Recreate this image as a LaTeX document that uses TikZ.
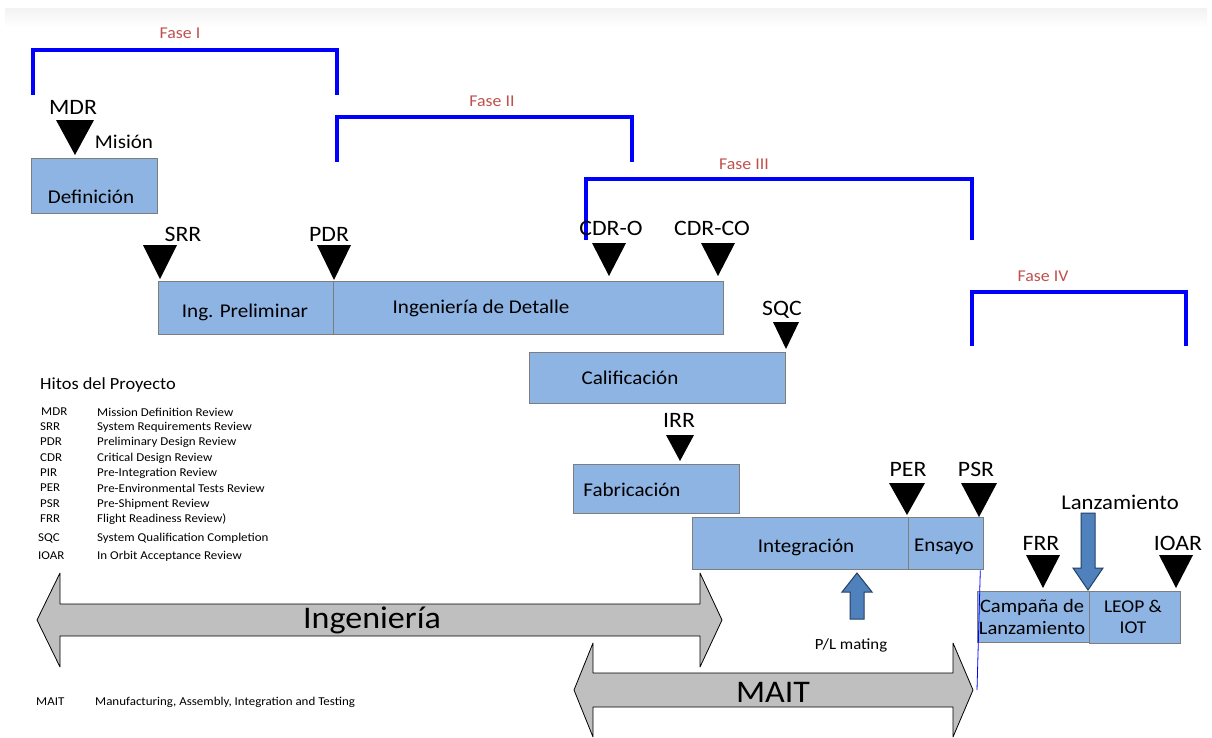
\documentclass[tikz,border=0pt]{standalone}
\usepackage{fontspec}
\setmainfont[FakeStretch=1.08]{Carlito}
\definecolor{boxfill}{RGB}{142,180,227}
\definecolor{boxline}{RGB}{125,125,125}
\definecolor{phaseblue}{RGB}{0,0,255}
\definecolor{fasered}{RGB}{192,80,77}
\definecolor{arrgray}{RGB}{191,191,191}
\definecolor{arrblue}{RGB}{79,129,189}
\definecolor{arrblueline}{RGB}{36,64,100}
\newcommand\mstone[4]{\fill[black] ({#1-#4/2},#2) -- ({#1+#4/2},#2) -- (#1,#3) -- cycle;}
\begin{document}
\begin{tikzpicture}[x=1pt,y=-1pt,
  phase/.style={draw=phaseblue,line width=3.2pt},
  phlabel/.style={text=fasered,font=\fontsize{16.5}{19}\selectfont,inner sep=0pt},
  box/.style={draw=boxline,fill=boxfill,line width=1.3pt,rectangle,inner sep=0pt,anchor=north west},
  btext/.style={font=\fontsize{19.5}{22}\selectfont,inner sep=0pt,align=center},
  mslabel/.style={font=\fontsize{22}{25}\selectfont,inner sep=0pt},
  legabbr/.style={font=\fontsize{12}{13}\selectfont,inner sep=0pt,anchor=west},
  legdesc/.style={font=\fontsize{12}{13}\selectfont,inner sep=0pt,anchor=west},
  bigarrow/.style={draw=black,fill=arrgray,line width=0.8pt,line join=round},
  bluearrow/.style={draw=arrblueline,fill=arrblue,line width=1pt},
  bigtext/.style={font=\fontsize{31.5}{36}\selectfont,inner sep=0pt}]
\useasboundingbox (0,0) rectangle (1212,737);
\fill[white] (0,0) rectangle (1212,737);
\shade[top color=black!5,bottom color=white] (5,8) rectangle (1207,27);

% phase brackets
\draw[phase] (33,95) -- (33,50) -- (337,50) -- (337,95);
\node[phlabel] (f1) at (180,33) {Fase I};
\draw[phase] (337,162) -- (337,117) -- (632,117) -- (632,162);
\node[phlabel] (f2) at (492,101) {Fase II};
\draw[phase] (586,240) -- (586,179) -- (972,179) -- (972,240);
\node[phlabel] (f3) at (744,164) {Fase III};
\draw[phase] (972,346) -- (972,292) -- (1186,292) -- (1186,346);
\node[phlabel] (f4) at (1043,276) {Fase IV};

% boxes
\node[box,minimum width=126pt,minimum height=55pt] (def) at (31,158) {};
\node[btext] at (91,197) {Definición};
\node[box,minimum width=175pt,minimum height=53pt] (prel) at (158,281) {};
\node[btext] at (245,312) {Ing. Preliminar};
\node[box,minimum width=390pt,minimum height=53pt] (det) at (333,281) {};
\node[btext] at (481,308) {Ingeniería de Detalle};
\node[box,minimum width=256pt,minimum height=51pt] (cal) at (529,352) {};
\node[btext] at (630,378) {Calificación};
\node[box,minimum width=166pt,minimum height=49pt] (fab) at (573,464) {};
\node[btext] at (632,490) {Fabricación};
\node[box,minimum width=216pt,minimum height=52pt] (int) at (692,517) {};
\node[btext] at (806,547) {Integración};
\node[box,minimum width=75pt,minimum height=52pt] (ens) at (908,517) {};
\node[btext] at (944,547) {Ensayo};
\node[box,minimum width=112pt,minimum height=51pt] (camp) at (977,591) {};
\node[btext,font=\fontsize{19}{21.5}\selectfont] at (1032,617) {Campaña de\\Lanzamiento};
\node[box,minimum width=91pt,minimum height=52pt] (leop) at (1089,591) {};
\node[btext,font=\fontsize{18}{21.5}\selectfont] at (1133,617) {LEOP \&\\IOT};

% milestones
\mstone{75}{120}{155}{38}
\node[mslabel] (mdr) at (73,107) {MDR};
\node[font=\fontsize{19.5}{22}\selectfont,inner sep=0pt] (mision) at (124,142) {Misión};
\mstone{160}{245}{279}{34}
\node[mslabel] (srr) at (183,234) {SRR};
\mstone{334}{245}{280}{34}
\node[mslabel] (pdr) at (329,234) {PDR};
\mstone{609}{243}{276}{34}
\node[mslabel] (cdro) at (611,228) {CDR-O};
\mstone{718}{243}{276}{34}
\node[mslabel] (cdrco) at (712,228) {CDR-CO};
\mstone{786}{322}{349}{26}
\node[mslabel] (sqc) at (782,310) {SQC};
\mstone{680}{435}{461}{28}
\node[mslabel] (irr) at (679,420) {IRR};
\mstone{907}{483}{515}{36}
\node[mslabel] (per) at (908,469) {PER};
\mstone{979}{483}{517}{36}
\node[mslabel] (psr) at (976,469) {PSR};
\mstone{1043}{555}{588}{34}
\node[mslabel] (frr) at (1041,543) {FRR};
\mstone{1176}{555}{588}{34}
\node[mslabel] (ioar) at (1178,543) {IOAR};

% launch arrow
\node[font=\fontsize{21}{24}\selectfont,inner sep=0pt] (lanz) at (1120,502) {Lanzamiento};
\draw[bluearrow] (1081,513) -- (1095,513) -- (1095,568) -- (1103,568) -- (1088,590) -- (1073,568) -- (1081,568) -- cycle;
% P/L mating arrow
\draw[bluearrow] (850,619) -- (864,619) -- (864,592) -- (872,592) -- (857,573) -- (842,592) -- (850,592) -- cycle;
\node[font=\fontsize{15.5}{18}\selectfont,inner sep=0pt] (pl) at (851,645) {P/L mating};

% thin blue line
\draw[phaseblue,line width=0.8pt] (ens.south east) ++(-4,0) -- (977,690);

% big double arrows
\draw[bigarrow] (37,620) -- (60,573) -- (60,604) -- (700,604) -- (700,573) -- (722,620) -- (700,667) -- (700,636) -- (60,636) -- (60,667) -- cycle;
\node[bigtext] (ing) at (372,620) {Ingeniería};
\draw[bigarrow] (574,690) -- (593,643) -- (593,673) -- (953,673) -- (953,643) -- (973,690) -- (953,737) -- (953,707) -- (593,707) -- (593,737) -- cycle;
\node[bigtext] (mait) at (773,692) {MAIT};

% legend
\node[font=\fontsize{17}{20}\selectfont,inner sep=0pt,anchor=west] (hitos) at (40,385) {Hitos del Proyecto};
\foreach \a/\d/\y/\ax in {MDR/Mission Definition Review/412/41,
  SRR/System Requirements Review/427/40,
  PDR/Preliminary Design Review/442/40,
  CDR/Critical Design Review/458/40,
  PIR/Pre-Integration Review/473/40,
  PER/Pre-Environmental Tests Review/488/40,
  PSR/Pre-Shipment Review/504/40,
  FRR/Flight Readiness Review)/519/40,
  SQC/System Qualification Completion/538/38,
  IOAR/In Orbit Acceptance Review/556/38}{
  \node[legabbr] at (\ax,\y) {\a};
  \node[legdesc] at (97,\y) {\d};
}
\node[legabbr] (maitab) at (36,702) {MAIT};
\node[legdesc] (maitd) at (95,702) {Manufacturing, Assembly, Integration and Testing};
\end{tikzpicture}
\end{document}
